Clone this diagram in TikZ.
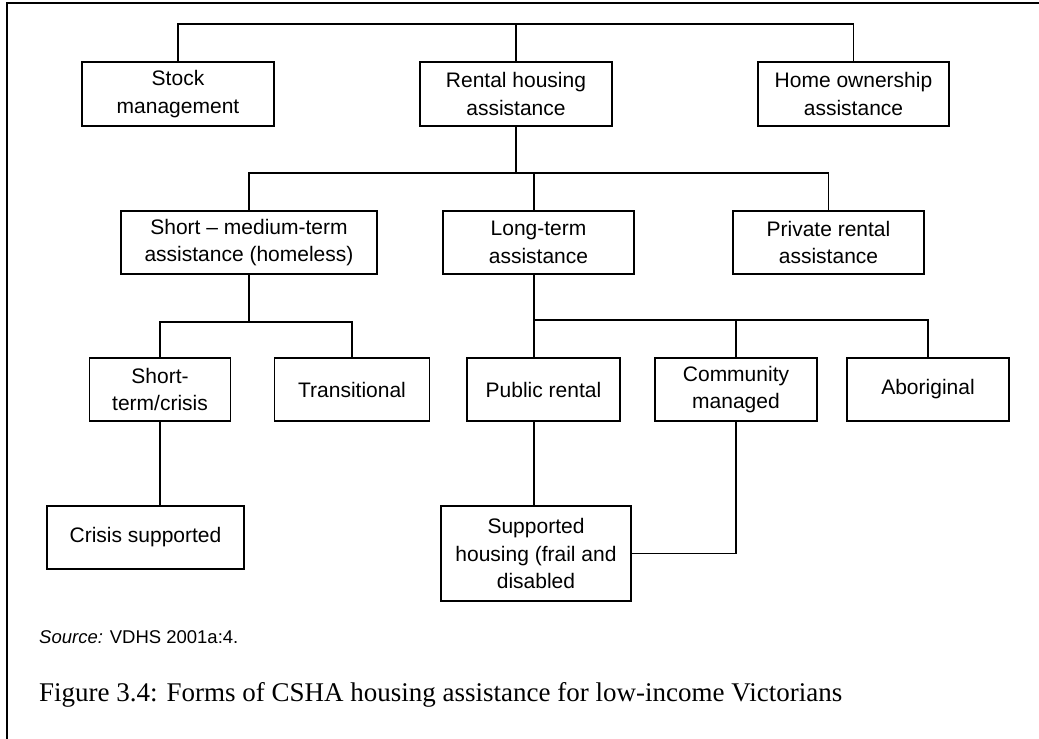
\documentclass[tikz,border=0pt]{standalone}
\usepackage{fontspec}
\setmainfont{Liberation Serif}
\setsansfont{Liberation Sans}
\usepackage{tikz}
\usetikzlibrary{positioning}

\tikzset{
  box/.style={draw, line width=1.6pt, align=center, inner sep=0pt,
    font=\sffamily\fontsize{21}{27.5}\selectfont},
  link/.style={line width=1.5pt},
}

\begin{document}
\begin{tikzpicture}[x=1pt, y=-1pt]
  \useasboundingbox (0,0) rectangle (1039,739);
  % frame (only top and left edge show)
  \draw[line width=1.5pt] (7,739) -- (7,3) -- (1039,3);

  % first level
  \node[box, minimum width=192, minimum height=64] (stock) at (178,94) {Stock\\management};
  \node[box, minimum width=192, minimum height=64] (rental) at (516,94) {Rental housing\\assistance};
  \node[box, minimum width=191, minimum height=64] (home) at (853.5,94) {Home ownership\\assistance};

  % second level
  \node[box, minimum width=256, minimum height=63] (shortmed) at (249,242.5) {Short -- medium-term\\assistance (homeless)};
  \node[box, minimum width=191, minimum height=63] (longterm) at (538.5,242.5) {Long-term\\assistance};
  \node[box, minimum width=191, minimum height=63] (private) at (828.5,242.5) {Private rental\\assistance};

  % third level
  \node[box, minimum width=141, minimum height=63] (shortterm) at (160,389.5) {Short-\\term/crisis};
  \node[box, minimum width=155, minimum height=63] (transit) at (352,389.5) {Transitional};
  \node[box, minimum width=153, minimum height=63] (public) at (543.5,389.5) {Public rental};
  \node[box, minimum width=162, minimum height=63] (community) at (736,389.5) {Community\\managed};
  \node[box, minimum width=162, minimum height=63] (aboriginal) at (928,389.5) {Aboriginal};

  % fourth level
  \node[box, minimum width=197, minimum height=63] (crisis) at (145.5,537.5) {Crisis supported};
  \node[box, minimum width=190, minimum height=95] (supported) at (536,553.5) {Supported\\housing (frail and\\disabled};

  % buses
  \coordinate (topbus) at (516,24);
  \coordinate (midbus) at (516,173);
  \coordinate (lowbus) at (249,322);
  \coordinate (trunk) at (534,320);

  \draw[link] (stock.north) |- (topbus) -| (home.north);
  \draw[link] (topbus) -- (rental.north);

  \draw[link] (rental.south) -- (midbus);
  \draw[link] (shortmed.north) |- (midbus) -| (private.north);
  \draw[link] (longterm.north -| trunk) |- (midbus);

  \draw[link] (shortmed.south) -- (lowbus);
  \draw[link] (shortterm.north) |- (lowbus) -| (transit.north);
  \draw[link] (shortterm.south) -- (crisis.north -| shortterm.south);

  \draw[link] (longterm.south -| trunk) -- (public.north -| trunk);
  \draw[link] (trunk) -| (community.north);
  \draw[link] (trunk) -| (aboriginal.north);
  \draw[link] (public.south -| trunk) -- (supported.north -| trunk);
  \draw[link] (community.south) |- (supported.east);

  % source and caption
  \node[anchor=base west, inner sep=0pt, font=\sffamily\fontsize{18.5}{22}\selectfont] (source) at (39,643) {\textit{Source:} VDHS 2001a:4.};
  \node[anchor=base west, inner sep=0pt, font=\fontsize{27}{32}\selectfont] (caption) at (39,701) {Figure 3.4: Forms of CSHA housing assistance for low-income Victorians};
\end{tikzpicture}
\end{document}
